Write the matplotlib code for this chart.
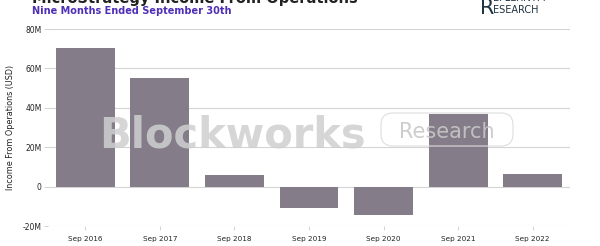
import numpy as np
import matplotlib.pyplot as plt
from matplotlib.patches import FancyBboxPatch
from matplotlib.ticker import FuncFormatter

years = ["Sep 2016", "Sep 2017", "Sep 2018", "Sep 2019", "Sep 2020", "Sep 2021", "Sep 2022"]
income = np.array([70.4, 55.0, 5.8, -10.7, -14.6, 36.8, 6.3]) * 1e6

fig = plt.figure(figsize=(6, 2.46), dpi=100)
ax = fig.add_axes([0.08, 0.081, 0.87, 0.801])

x = np.arange(len(years))
ax.bar(x, income, width=0.79, color="#857c8a", zorder=3)

ax.set_xlim(-0.5, 6.5)
ax.set_ylim(-20e6, 80e6)
ax.set_yticks(np.arange(-20e6, 81e6, 20e6))
ax.yaxis.set_major_formatter(FuncFormatter(lambda v, p: "0" if v == 0 else f"{v/1e6:.0f}M"))
ax.set_xticks(x)
ax.set_xticklabels(years)
ax.tick_params(axis="x", labelsize=5.2, labelcolor="#222222", color="#cccccc",
               length=3, width=0.6, pad=4)
ax.tick_params(axis="y", labelsize=5.5, labelcolor="#222222", color="#cccccc",
               length=3, width=0.6, pad=1.5)
ax.grid(axis="y", color="#d4d4d4", linewidth=0.8, zorder=0)
for s in ax.spines.values():
    s.set_visible(False)
ax.set_ylabel("Income From Operations (USD)", fontsize=5.8, color="#222222")
ax.yaxis.set_label_coords(-0.063, 0.5)

# watermark
fig.text(0.387, 0.402, "Blockworks", fontsize=30, fontweight="bold", color="#cfcfcf",
         alpha=0.85, ha="center", va="baseline", zorder=5)
fig.text(0.745, 0.44, "Research", fontsize=15, color="#c8c8c8", alpha=0.9,
         ha="center", va="baseline", zorder=5)
fig.patches.append(FancyBboxPatch((3.81, 1.0), 1.32, 0.33, boxstyle="round,pad=0,rounding_size=0.12",
                                  transform=fig.dpi_scale_trans, fc="none", ec="#dedede",
                                  lw=0.8, zorder=5))

# header
fig.text(0.053, 0.989, "MicroStrategy Income From Operations", fontsize=10.5, fontweight="bold",
         color="#222222", ha="left", va="baseline")
fig.text(0.053, 0.955, "Nine Months Ended September 30th", fontsize=7, fontweight="bold",
         color="#4f2fb8", ha="left", va="center")
fig.text(0.80, 0.945, "R", fontsize=15, color="#1f3340", ha="left", va="baseline")
fig.text(0.822, 0.995, "EFLEXIVITY", fontsize=7, color="#1f3340", ha="left", va="baseline")
fig.text(0.822, 0.947, "ESEARCH", fontsize=7, color="#1f3340", ha="left", va="baseline")

fig.savefig("out.png", dpi=100)
